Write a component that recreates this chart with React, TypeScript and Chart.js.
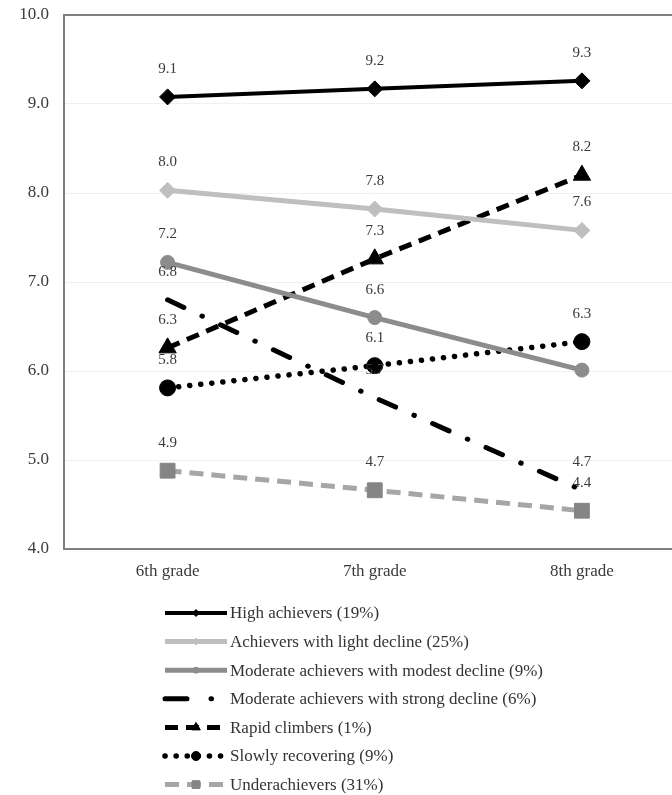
import React, { useEffect, useRef } from "react";
import { Chart, registerables } from "chart.js";

Chart.register(...registerables);

const grades = ["6th grade", "7th grade", "8th grade"];

const seriesNames = [
  "High achievers (19%)",
  "Achievers with light decline (25%)",
  "Moderate achievers with modest decline (9%)",
  "Moderate achievers with strong decline (6%)",
  "Rapid climbers (1%)",
  "Slowly recovering (9%)",
  "Underachievers (31%)",
];

const highAchievers = [9.08, 9.17, 9.26];
const lightDecline = [8.03, 7.82, 7.58];
const modestDecline = [7.22, 6.6, 6.01];
const strongDecline = [6.8, 5.7, 4.66];
const rapidClimbers = [6.26, 7.26, 8.2];
const slowlyRecovering = [5.81, 6.06, 6.33];
const underachievers = [4.88, 4.66, 4.43];

const yMin = 4;
const yMax = 10;
const yStep = 1;

// [seriesIndex, pointIndex] labels not printed in the original
const hiddenLabels = [[2, 2]];

const FONT = "'Liberation Serif', 'Times New Roman', serif";

type Marker = "rectRot" | "circle" | "triangle" | "rect" | "none";

function drawMarker(
  ctx: CanvasRenderingContext2D,
  style: Marker,
  x: number,
  y: number,
  r: number,
  fill: string
) {
  if (style === "none" || r <= 0) return;
  ctx.save();
  ctx.fillStyle = fill;
  ctx.strokeStyle = fill;
  ctx.setLineDash([]);
  ctx.lineWidth = 1;
  ctx.beginPath();
  if (style === "circle") {
    ctx.arc(x, y, r, 0, Math.PI * 2);
  } else if (style === "rectRot") {
    ctx.moveTo(x, y - r);
    ctx.lineTo(x + r, y);
    ctx.lineTo(x, y + r);
    ctx.lineTo(x - r, y);
    ctx.closePath();
  } else if (style === "triangle") {
    ctx.moveTo(x, y - r);
    ctx.lineTo(x + r * 0.866, y + r * 0.5);
    ctx.lineTo(x - r * 0.866, y + r * 0.5);
    ctx.closePath();
  } else if (style === "rect") {
    const s = r * Math.SQRT1_2;
    ctx.rect(x - s, y - s, 2 * s, 2 * s);
  }
  ctx.fill();
  ctx.stroke();
  ctx.restore();
}

const labelPlugin = {
  id: "valueLabels",
  afterDatasetsDraw(chart: any) {
    const ctx: CanvasRenderingContext2D = chart.ctx;
    ctx.save();
    ctx.font = `15px ${FONT}`;
    ctx.fillStyle = "#3a3a3a";
    ctx.textAlign = "center";
    ctx.textBaseline = "middle";
    chart.data.datasets.forEach((ds: any, di: number) => {
      const meta = chart.getDatasetMeta(di);
      meta.data.forEach((pt: any, pi: number) => {
        if (hiddenLabels.some(([a, b]) => a === di && b === pi)) return;
        const v = ds.data[pi] as number;
        ctx.fillText(v.toFixed(1), pt.x, pt.y - 28);
      });
    });
    ctx.restore();
  },
};

const legendPlugin = {
  id: "customLegend",
  afterDraw(chart: any) {
    const ctx: CanvasRenderingContext2D = chart.ctx;
    const x0 = 165;
    const x1 = 227;
    const top = 613;
    const step = 28.6;
    chart.data.datasets.forEach((ds: any, i: number) => {
      const y = top + i * step;
      ctx.save();
      ctx.beginPath();
      ctx.strokeStyle = ds.borderColor;
      ctx.lineWidth = ds.borderWidth;
      ctx.lineCap = ds.borderCapStyle || "butt";
      ctx.setLineDash(ds.legendDash || ds.borderDash || []);
      ctx.moveTo(x0, y);
      ctx.lineTo(x1, y);
      ctx.stroke();
      ctx.restore();
      drawMarker(
        ctx,
        ds.legendMarker,
        (x0 + x1) / 2,
        y,
        ds.legendMarkerRadius,
        ds.pointBackgroundColor
      );
      ctx.save();
      ctx.font = `17px ${FONT}`;
      ctx.fillStyle = "#333333";
      ctx.textAlign = "left";
      ctx.textBaseline = "middle";
      ctx.fillText(ds.label, x1 + 3, y + 1);
      ctx.restore();
    });
  },
};

export default function App() {
  const ref = useRef<HTMLCanvasElement | null>(null);

  useEffect(() => {
    if (!ref.current) return;
    const mk = (
      i: number,
      data: number[],
      color: string,
      width: number,
      dash: number[],
      cap: string,
      pStyle: Marker,
      pRadius: number,
      pColor: string,
      lRadius: number,
      lDash?: number[]
    ) => ({
      label: seriesNames[i],
      data,
      borderColor: color,
      borderWidth: width,
      borderDash: dash,
      borderCapStyle: cap,
      pointStyle: pStyle === "none" ? false : pStyle,
      pointRadius: pStyle === "none" ? 0 : pRadius,
      pointHoverRadius: pStyle === "none" ? 0 : pRadius,
      pointBackgroundColor: pColor,
      pointBorderColor: pColor,
      pointBorderWidth: 1,
      legendMarker: pStyle,
      legendMarkerRadius: lRadius,
      legendDash: lDash,
      tension: 0,
      fill: false,
      clip: false,
    });

    const chart = new Chart(ref.current, {
      type: "line",
      data: {
        labels: grades,
        datasets: [
          mk(0, highAchievers, "#000000", 4, [], "butt", "rectRot", 8, "#000000", 3.5),
          mk(1, lightDecline, "#bfbfbf", 5, [], "butt", "rectRot", 8, "#bfbfbf", 3.5),
          mk(2, modestDecline, "#8c8c8c", 5, [], "butt", "circle", 7, "#8c8c8c", 3),
          mk(3, strongDecline, "#000000", 5, [18, 20, 0.5, 20], "round", "none", 0, "#000000", 0, [22, 24, 0.5, 40]),
          mk(4, rapidClimbers, "#000000", 5, [13, 8], "butt", "triangle", 10, "#000000", 5),
          mk(5, slowlyRecovering, "#000000", 5.5, [0.1, 11], "round", "circle", 8, "#000000", 4.5),
          mk(6, underachievers, "#a6a6a6", 5, [14, 8], "butt", "rect", 10.5, "#858585", 5.5),
        ] as any,
      },
      options: {
        responsive: false,
        animation: false,
        events: [],
        layout: { padding: { top: 15, right: 14.5, left: 0, bottom: 0 } },
        plugins: {
          legend: { display: false },
          tooltip: { enabled: false },
          title: { display: false },
        },
        scales: {
          x: {
            type: "category",
            offset: true,
            grid: { display: false, drawTicks: false },
            border: { display: true, color: "#7f7f7f", width: 2 },
            ticks: {
              color: "#3a3a3a",
              font: { family: FONT, size: 17 },
              padding: 12,
              maxRotation: 0,
            },
            afterFit: (s: any) => {
              s.height = 795 - 549;
              s.paddingLeft = 0;
              s.paddingRight = 0;
            },
          },
          y: {
            type: "linear",
            min: yMin,
            max: yMax,
            grid: {
              drawTicks: false,
              color: (c: any) => (c.tick && c.tick.value === yMax ? "#7f7f7f" : "#f0f0f0"),
              lineWidth: (c: any) => (c.tick && c.tick.value === yMax ? 2 : 1),
            },
            border: { display: true, color: "#7f7f7f", width: 2 },
            ticks: {
              stepSize: yStep,
              color: "#3a3a3a",
              font: { family: FONT, size: 17 },
              padding: 15,
              callback: (v: any) => Number(v).toFixed(1),
            },
            afterFit: (s: any) => {
              s.width = 64;
              s.paddingTop = 0;
              s.paddingBottom = 0;
            },
          },
        },
      } as any,
      plugins: [labelPlugin, legendPlugin],
    });
    return () => chart.destroy();
  }, []);

  return (
    <div
      style={{
        position: "absolute",
        left: 0,
        top: 0,
        width: 672,
        height: 795,
        overflow: "hidden",
        background: "#ffffff",
      }}
    >
      <canvas ref={ref} width={700} height={795} style={{ display: "block" }} />
    </div>
  );
}
